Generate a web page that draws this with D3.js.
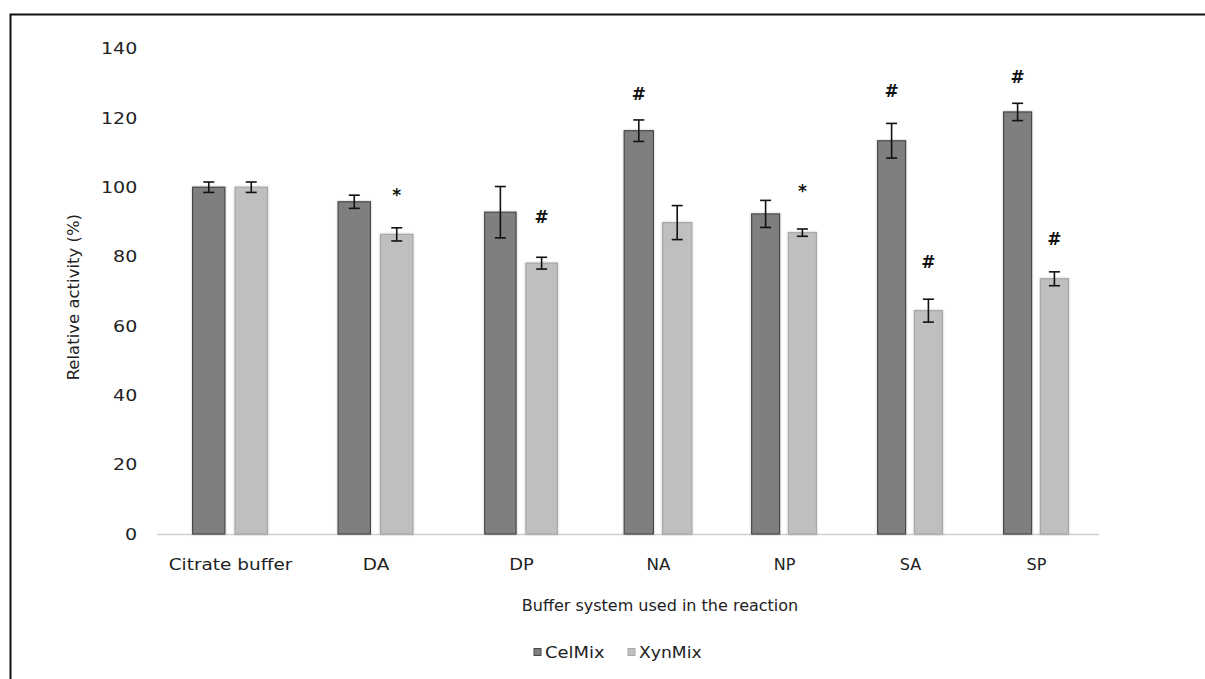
<!DOCTYPE html>
<html>
<head>
<meta charset="utf-8">
<script src="https://cdn.jsdelivr.net/npm/d3@7"></script>
<style>
  html, body { margin: 0; padding: 0; background: #fff; }
  svg { display: block; font-family: "DejaVu Sans", Verdana, sans-serif; }
</style>
</head>
<body>
<svg id="chart" width="1205" height="679"></svg>
<script>
// Buffer systems on the x axis
const categories = ["Citrate buffer", "DA", "DP", "NA", "NP", "SA", "SP"];
const seriesNames = ["CelMix", "XynMix"];

// Relative activity (%) and standard deviations
const celMix    = [100, 95.8, 92.8, 116.3, 92.3, 113.4, 121.7];
const celMixErr = [1.5, 1.9, 7.4, 3.1, 3.9, 5.0, 2.5];
const xynMix    = [100, 86.4, 78.1, 89.8, 86.9, 64.4, 73.6];
const xynMixErr = [1.5, 1.9, 1.7, 4.9, 1.05, 3.3, 2.0];

// Significance markers (symbol, height on the value axis where it sits)
const celMarks = [null, null, null, ["#", 127], null, ["#", 127.8], ["#", 131.9]];
const xynMarks = [null, ["*", 98.6], ["#", 91.5], null, ["*", 100.0], ["#", 78.5], ["#", 85]];

const yTicks = [0, 20, 40, 60, 80, 100, 120, 140];

const colors = { CelMix: "#7f7f7f", XynMix: "#bfbfbf" };
const strokes = { CelMix: "#4a4a4a", XynMix: "#a8a8a8" };
const ink = "#222";

const svg = d3.select("#chart");

// Outer frame (top and left edges visible)
svg.append("rect")
  .attr("x", 10.5).attr("y", 14.5)
  .attr("width", 1300).attr("height", 800)
  .attr("fill", "none").attr("stroke", "#111").attr("stroke-width", 2);

// Category index -> x position of group centre (wider spacing on the left)
const x = d3.scaleLinear().domain([0, 2, 3, 6]).range([230, 521, 658, 1036]);
const y = d3.scaleLinear().domain([0, 140]).range([534, 48.5]);

const baseStep = x(6) - x(5);
const localStep = i => x(i + 0.5) - x(i - 0.5);
// horizontal stretch of the layout at a given pixel position
const stretchAt = px => {
  const i = x.invert(px), d = 0.01;
  return (x(i + d) - x(i - d)) / (2 * d) / baseStep;
};

// Soft glow around the bars
const defs = svg.append("defs");
const f = defs.append("filter").attr("id", "glow").attr("x", "-30%").attr("y", "-10%").attr("width", "160%").attr("height", "120%");
f.append("feGaussianBlur").attr("in", "SourceAlpha").attr("stdDeviation", 1.2).attr("result", "b");
f.append("feFlood").attr("flood-color", "#000").attr("flood-opacity", 0.25);
f.append("feComposite").attr("in2", "b").attr("operator", "in").attr("result", "s");
const m = f.append("feMerge");
m.append("feMergeNode").attr("in", "s");
m.append("feMergeNode").attr("in", "SourceGraphic");

// Baseline
svg.append("line")
  .attr("x1", x(-0.5)).attr("x2", x(categories.length - 0.5))
  .attr("y1", y(0) + 0.5).attr("y2", y(0) + 0.5)
  .attr("stroke", "#d0d0d0").attr("stroke-width", 1.5);

// Y axis
const yAxis = svg.append("g")
  .attr("transform", `translate(${x(-0.5)},0)`)
  .call(d3.axisLeft(y).tickValues(yTicks).tickSize(0).tickPadding(20));
yAxis.select(".domain").remove();
yAxis.selectAll("text")
  .attr("font-size", 16.5).attr("fill", ink)
  .attr("font-family", "DejaVu Sans, Verdana, sans-serif")
  .attr("transform", function () {
    const tx = +d3.select(this).attr("x");
    return `translate(${tx},0) scale(${stretchAt(x(-0.5) + tx)},1)`;
  })
  .attr("x", 0);

// X axis labels
const xAxis = svg.append("g")
  .attr("transform", `translate(0,${y(0)})`)
  .call(d3.axisBottom(x).tickValues(d3.range(categories.length))
    .tickFormat(i => categories[i]).tickSize(0).tickPadding(25));
xAxis.select(".domain").remove();
xAxis.selectAll("text")
  .attr("font-size", 16).attr("fill", ink)
  .attr("font-family", "DejaVu Sans, Verdana, sans-serif")
  .attr("transform", i => `scale(${localStep(i) / baseStep},1)`);

// Axis titles
svg.append("text")
  .attr("transform", `translate(660,611) scale(${stretchAt(660)},1)`)
  .attr("text-anchor", "middle").attr("font-size", 16).attr("fill", ink)
  .text("Buffer system used in the reaction");

svg.append("text")
  .attr("transform", `translate(79,${y(68.3)}) rotate(-90)`)
  .attr("text-anchor", "middle").attr("font-size", 16.5).attr("fill", ink)
  .text("Relative activity (%)");

// Bars, error bars and markers
const series = [
  { name: "CelMix", vals: celMix, errs: celMixErr, marks: celMarks, side: -1 },
  { name: "XynMix", vals: xynMix, errs: xynMixErr, marks: xynMarks, side: 1 }
];

series.forEach(s => {
  const g = svg.append("g");
  const cx = i => x(i) + s.side * 0.146 * localStep(i);
  const bw = i => 0.222 * localStep(i);

  g.selectAll("rect").data(s.vals).join("rect")
    .attr("x", (d, i) => cx(i) - bw(i) / 2)
    .attr("y", d => y(d))
    .attr("width", (d, i) => bw(i))
    .attr("height", d => y(0) - y(d))
    .attr("fill", colors[s.name])
    .attr("stroke", strokes[s.name]).attr("stroke-width", 1.2)
    .attr("filter", "url(#glow)");

  const eg = svg.append("g").attr("stroke", "#111").attr("stroke-width", 1.6);
  s.vals.forEach((v, i) => {
    const e = s.errs[i];
    const c = cx(i);
    eg.append("line").attr("x1", c).attr("x2", c).attr("y1", y(v + e)).attr("y2", y(v - e));
    eg.append("line").attr("x1", c - 5.5).attr("x2", c + 5.5).attr("y1", y(v + e)).attr("y2", y(v + e));
    eg.append("line").attr("x1", c - 5.5).attr("x2", c + 5.5).attr("y1", y(v - e)).attr("y2", y(v - e));
  });

  s.marks.forEach((mk, i) => {
    if (!mk) return;
    svg.append("text")
      .attr("x", cx(i)).attr("y", y(mk[1]))
      .attr("dy", mk[0] === "*" ? "0.55em" : "0.36em")
      .attr("text-anchor", "middle")
      .attr("font-size", 17).attr("font-weight", "bold")
      .attr("fill", "#111")
      .text(mk[0]);
  });
});

// Legend
const legend = svg.append("g").attr("transform", "translate(534,652)");
const lx = [0, 94];
seriesNames.forEach((n, i) => {
  const lg = legend.append("g").attr("transform", `translate(${lx[i]},0)`);
  lg.append("rect").attr("x", 0).attr("y", -3.5).attr("width", 7).attr("height", 7)
    .attr("fill", colors[n]).attr("stroke", strokes[n]).attr("stroke-width", 1);
  lg.append("text")
    .attr("transform", `translate(11,0) scale(${stretchAt(534 + lx[i] + 30) * 1.03},1)`)
    .attr("dy", "0.36em")
    .attr("font-size", 16).attr("fill", ink).text(n);
});
</script>
</body>
</html>
